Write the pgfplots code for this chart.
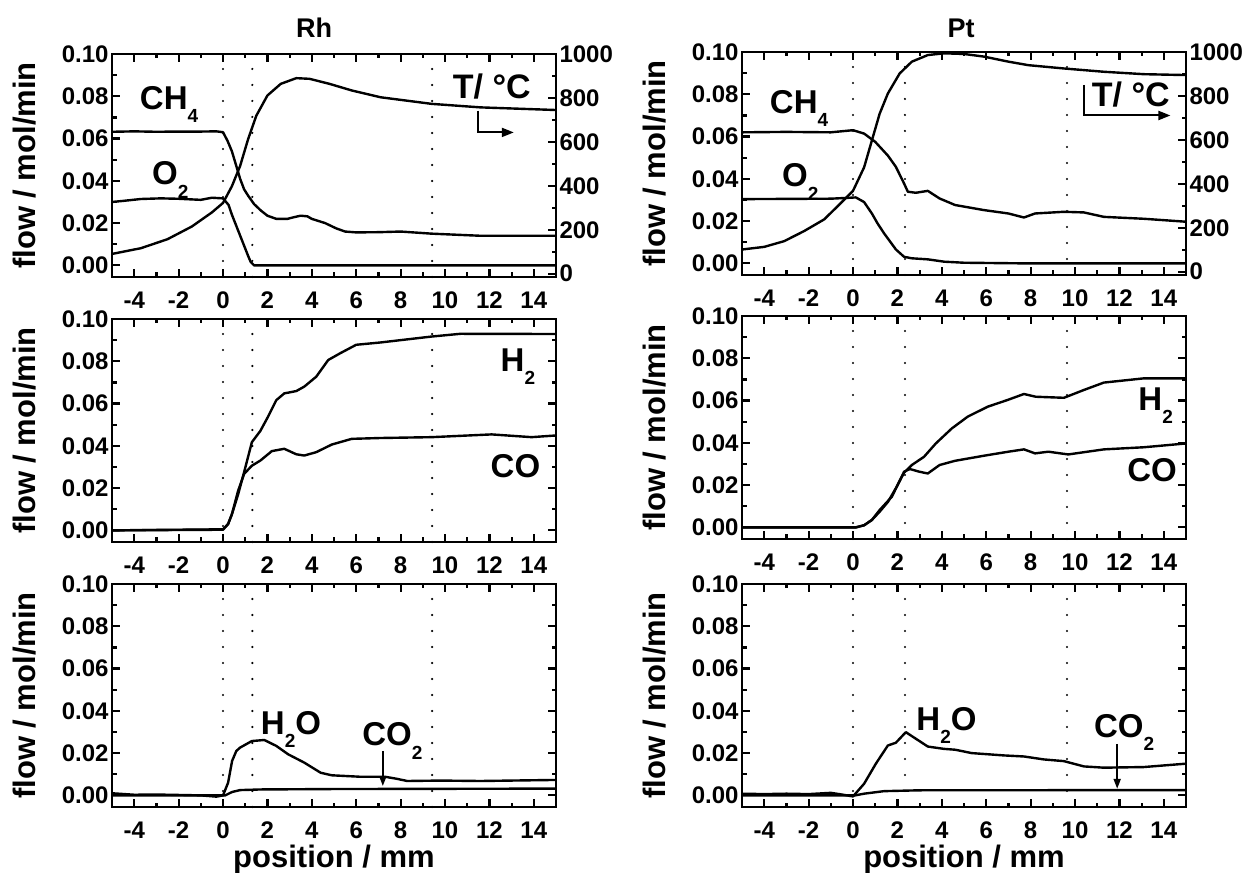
\documentclass[border=0pt]{standalone}
\usepackage{fontspec}
\setmainfont{Liberation Sans}
\usepackage{pgfplots}
\pgfplotsset{compat=1.18}
\usetikzlibrary{arrows.meta}
\newcommand\sub[1]{\raisebox{-0.4em}{\fontsize{19}{19}\selectfont #1}}
\newcommand\lab{\fontsize{31}{31}\selectfont\bfseries}
\newcommand\spec{\fontsize{33}{33}\selectfont\bfseries}
\tikzset{dots/.style={line width=2.4pt, dash pattern=on 0pt off 16pt, line cap=round}}
\pgfplotsset{
  base/.style={
    scale only axis, width=444pt, height=223pt,
    xmin=-5, xmax=15,
    tick align=inside,
    major tick length=8pt, minor tick length=4.5pt,
    every tick/.style={black, line width=2.2pt},
    axis line style={line width=2.8pt},
    ticklabel style={font=\fontsize{24}{24}\selectfont\bfseries},
    xticklabel style={yshift=-11pt},
    clip mode=individual,
    no markers,
    cycle list={{black}},
    every axis plot post/.append style={black, line width=2.4pt, mark=none, line join=round},
  },
  panel/.style={
    base,
    ymin=-0.0055, ymax=0.1,
    xtick={-4,-2,...,14}, xticklabels={-4,-2,0,2,4,6,8,10,12,14},
    ytick={0,0.02,0.04,0.06,0.08,0.1}, yticklabels={0.00,0.02,0.04,0.06,0.08,0.10},
    minor x tick num=1, minor y tick num=1,
    xtick pos=both, ytick pos=both,
    ylabel={flow / mol/min},
    ylabel style={at={(axis description cs:-0.197,0.5)}, anchor=center, font=\lab},
  },
  tpanel/.style={
    base,
    ymin=-15, ymax=1000,
    axis x line=none, axis y line*=right,
    ytick={0,200,...,1000}, yticklabels={0,200,400,600,800,1000},
    minor y tick num=1,
  },
  bottompanel/.style={
    xlabel={position / mm},
    xlabel style={at={(axis description cs:0.5,-0.235)}, anchor=center, font=\lab},
  },
}
\begin{document}
\begin{tikzpicture}[x=1pt,y=1pt]
\useasboundingbox (0,0) rectangle (1248,873);
\node[font=\fontsize{27}{27}\selectfont\bfseries] at (314,845) {Rh};
\node[font=\fontsize{27}{27}\selectfont\bfseries] at (961,845) {Pt};

% ---------------- Rh top ----------------
\begin{axis}[panel, at={(112pt,596pt)}, ytick pos=left]
\draw[dots] (axis cs:0,-0.0055) -- (axis cs:0,0.1);
\draw[dots] (axis cs:1.32,-0.0055) -- (axis cs:1.32,0.1);
\draw[dots] (axis cs:9.42,-0.0055) -- (axis cs:9.42,0.1);
\addplot coordinates {(-5,0.0632) (-4,0.0634) (-3,0.0632) (-2,0.0633) (-1,0.0633) (-0.3,0.0634) (0,0.063) (0.2,0.059) (0.4,0.054) (0.6,0.047) (0.77,0.041) (0.95,0.036) (1.13,0.033) (1.4,0.029) (1.7,0.026) (2.0,0.0235) (2.4,0.022) (2.9,0.022) (3.2,0.0228) (3.5,0.0235) (3.8,0.0232) (4.0,0.022) (4.3,0.021) (4.6,0.020) (5.1,0.0175) (5.5,0.016) (6,0.0156) (7,0.0157) (8,0.016) (9.4,0.015) (10.5,0.0145) (11.6,0.014) (13,0.014) (15,0.014)};
\addplot coordinates {(-5,0.030) (-4.5,0.0305) (-3.7,0.0314) (-2.8,0.0317) (-2,0.0315) (-1,0.031) (-0.5,0.032) (0,0.0317) (0.25,0.0286) (0.4,0.024) (0.55,0.020) (0.7,0.016) (0.85,0.012) (1.0,0.008) (1.15,0.004) (1.25,0.0016) (1.4,0.0) (15,0.0)};
\node[anchor=base west, font=\spec] at (axis cs:-3.9,0.0738) {CH\sub{4}};
\node[anchor=base west, font=\spec] at (axis cs:-3.35,0.0381) {O\sub{2}};
\end{axis}
\begin{axis}[tpanel, at={(112pt,596pt)}]
\addplot coordinates {(-5,90) (-3.7,116) (-2.5,157) (-1.4,215) (-0.5,279) (0,322) (0.4,398) (0.77,490) (1.13,612) (1.5,719) (2.0,811) (2.6,864) (3.3,890) (3.9,887) (4.8,864) (5.8,834) (7.1,803) (9.4,773) (11.6,757) (15,745)};
\node[anchor=base west, font=\fontsize{34}{34}\selectfont\bfseries] at (axis cs:10.2,796) {T/ °C};
\draw[line width=2pt, -{Triangle[length=12pt,width=9pt]}] (axis cs:11.5,742) |- (axis cs:13.1,643);
\end{axis}

% ---------------- Pt top ----------------
\begin{axis}[panel, at={(742pt,598pt)}, ytick pos=left]
\draw[dots] (axis cs:0,-0.0055) -- (axis cs:0,0.1);
\draw[dots] (axis cs:2.34,-0.0055) -- (axis cs:2.34,0.1);
\draw[dots] (axis cs:9.64,-0.0055) -- (axis cs:9.64,0.1);
\addplot coordinates {(-5,0.062) (-3,0.0622) (-1,0.062) (0,0.063) (0.5,0.0614) (1.0,0.0575) (1.57,0.051) (1.93,0.0457) (2.15,0.041) (2.3,0.0378) (2.47,0.0339) (2.83,0.0334) (3.37,0.0343) (3.9,0.0307) (4.6,0.0276) (5.9,0.0252) (7,0.0236) (7.7,0.0217) (8.2,0.0236) (9.5,0.0244) (10.4,0.0241) (11.3,0.022) (13.1,0.0211) (15,0.0197)};
\addplot coordinates {(-5,0.0304) (-3,0.0305) (-1,0.0306) (-0.23,0.031) (0.13,0.0312) (0.5,0.029) (0.85,0.0236) (1.1,0.019) (1.4,0.0142) (1.93,0.0066) (2.3,0.0031) (2.65,0.0024) (3.37,0.0019) (4.1,0.0008) (5,0.0003) (7.7,0) (15,0)};
\node[anchor=base west, font=\spec] at (axis cs:-3.9,0.0709) {CH\sub{4}};
\node[anchor=base west, font=\spec] at (axis cs:-3.35,0.0362) {O\sub{2}};
\end{axis}
\begin{axis}[tpanel, at={(742pt,598pt)}]
\addplot coordinates {(-5,101) (-4,113) (-3.1,139) (-2.2,185) (-1.3,238) (-0.6,307) (0,368) (0.5,475) (0.85,597) (1.2,719) (1.57,811) (2.1,902) (2.65,956) (3.37,986) (4.1,994) (5,991) (5.9,979) (7,956) (7.9,940) (9.5,925) (11.3,910) (13.1,899) (15,895)};
\node[anchor=base west, font=\fontsize{34}{34}\selectfont\bfseries] at (axis cs:10.6,750) {T/ °C};
\draw[line width=2pt, -{Triangle[length=12pt,width=9pt]}] (axis cs:10.4,850) |- (axis cs:14.3,711);
\end{axis}

% ---------------- Rh middle ----------------
\begin{axis}[panel, at={(112pt,331pt)}]
\draw[dots] (axis cs:0,-0.0055) -- (axis cs:0,0.1);
\draw[dots] (axis cs:1.32,-0.0055) -- (axis cs:1.32,0.1);
\draw[dots] (axis cs:9.42,-0.0055) -- (axis cs:9.42,0.1);
\addplot coordinates {(-5,0) (0,0.0005) (0.23,0.003) (0.4,0.0076) (0.68,0.017) (0.95,0.0275) (1.3,0.0417) (1.68,0.047) (2.04,0.054) (2.4,0.0616) (2.76,0.0648) (3.3,0.0659) (3.66,0.068) (4.2,0.0727) (4.74,0.0806) (5.28,0.0838) (6,0.0878) (7.1,0.0889) (8,0.09) (9.4,0.0917) (10.7,0.093) (15,0.0929)};
\addplot coordinates {(-5,0) (0,0.0003) (0.23,0.003) (0.4,0.0076) (0.68,0.0187) (0.95,0.0267) (1.3,0.0306) (1.68,0.033) (2.2,0.0375) (2.76,0.0386) (3.3,0.036) (3.66,0.0354) (4.2,0.037) (4.9,0.0406) (5.8,0.0433) (7.1,0.0437) (9.4,0.0441) (12.1,0.0454) (13.9,0.0441) (15,0.0449)};
\node[anchor=base west, font=\spec] at (axis cs:12.35,0.0751) {H\sub{2}};
\node[anchor=base west, font=\spec] at (axis cs:11.9,0.0251) {CO};
\end{axis}

% ---------------- Pt middle ----------------
\begin{axis}[panel, at={(742pt,334pt)}]
\draw[dots] (axis cs:0,-0.0055) -- (axis cs:0,0.1);
\draw[dots] (axis cs:2.34,-0.0055) -- (axis cs:2.34,0.1);
\draw[dots] (axis cs:9.64,-0.0055) -- (axis cs:9.64,0.1);
\addplot coordinates {(-5,0) (0.13,0) (0.5,0.001) (0.85,0.0035) (1.2,0.0074) (1.57,0.012) (1.93,0.0185) (2.3,0.0259) (2.65,0.0295) (3.2,0.0334) (3.73,0.0397) (4.45,0.0468) (5.17,0.0524) (6.07,0.0571) (6.97,0.0603) (7.7,0.0631) (8.23,0.0618) (9.5,0.0613) (10.4,0.065) (11.3,0.0685) (13.1,0.0705) (15,0.0705)};
\addplot coordinates {(-5,0) (0.13,0) (0.5,0.001) (0.85,0.0035) (1.2,0.0082) (1.75,0.0145) (2.3,0.0263) (2.56,0.0276) (3.0,0.0263) (3.37,0.0255) (3.9,0.0295) (4.6,0.0315) (5.9,0.0339) (7,0.0358) (7.7,0.0369) (8.2,0.035) (8.8,0.0358) (9.7,0.0345) (11.3,0.0369) (13.1,0.0379) (15,0.0397)};
\node[anchor=base west, font=\spec] at (axis cs:12.7,0.0555) {H\sub{2}};
\node[anchor=base west, font=\spec] at (axis cs:12.2,0.0216) {CO};
\end{axis}

% ---------------- Rh bottom ----------------
\begin{axis}[panel, bottompanel, at={(112pt,66pt)}]
\draw[dots] (axis cs:0,-0.0055) -- (axis cs:0,0.1);
\draw[dots] (axis cs:1.32,-0.0055) -- (axis cs:1.32,0.1);
\draw[dots] (axis cs:9.42,-0.0055) -- (axis cs:9.42,0.1);
\addplot coordinates {(-5,0.001) (-4,0.0003) (-3,0.0004) (-2,0.0002) (-1,0.0) (-0.3,-0.0006) (0,0) (0.23,0.006) (0.41,0.0163) (0.6,0.021) (0.77,0.0226) (1.3,0.0257) (1.86,0.0262) (2.4,0.0234) (2.94,0.0194) (3.66,0.0155) (4.4,0.0107) (4.9,0.0095) (6.2,0.0088) (7.3,0.0088) (7.8,0.0079) (8.3,0.0068) (9.8,0.007) (11.6,0.0068) (15,0.0073)};
\addplot coordinates {(-5,0) (0.1,0) (0.41,0.0016) (0.77,0.0025) (1.7,0.0028) (5,0.003) (15,0.0032)};
\node[anchor=base west, font=\spec] at (axis cs:1.55,0.0289) {H\sub{2}O};
\node[anchor=base west, font=\spec] at (axis cs:6.12,0.0234) {CO\sub{2}};
\draw[line width=2pt, -{Triangle[length=10pt,width=7pt]}] (axis cs:7.2,0.021) -- (axis cs:7.2,0.0044);
\end{axis}

% ---------------- Pt bottom ----------------
\begin{axis}[panel, bottompanel, at={(742pt,66pt)}]
\draw[dots] (axis cs:0,-0.0055) -- (axis cs:0,0.1);
\draw[dots] (axis cs:2.34,-0.0055) -- (axis cs:2.34,0.1);
\draw[dots] (axis cs:9.64,-0.0055) -- (axis cs:9.64,0.1);
\addplot coordinates {(-5,0.0008) (-4,0.0006) (-3,0.0008) (-2,0.0006) (-1,0.0012) (-0.5,0.0004) (0,-0.0005) (0.5,0.0055) (1.03,0.015) (1.57,0.0236) (1.93,0.0249) (2.38,0.0299) (2.83,0.0268) (3.37,0.0231) (4.1,0.022) (4.6,0.0216) (5.35,0.02) (6.8,0.0189) (7.7,0.0184) (8.6,0.017) (9.5,0.0162) (10.4,0.0137) (11.3,0.0131) (13.1,0.0134) (15,0.015)};
\addplot coordinates {(-5,0) (0.1,0) (0.5,0.0008) (1.4,0.002) (3,0.0024) (15,0.0025)};
\node[anchor=base west, font=\spec] at (axis cs:2.7,0.0307) {H\sub{2}O};
\node[anchor=base west, font=\spec] at (axis cs:10.7,0.0276) {CO\sub{2}};
\draw[line width=2pt, -{Triangle[length=10pt,width=7pt]}] (axis cs:11.9,0.0244) -- (axis cs:11.9,0.0031);
\end{axis}
\end{tikzpicture}
\end{document}
